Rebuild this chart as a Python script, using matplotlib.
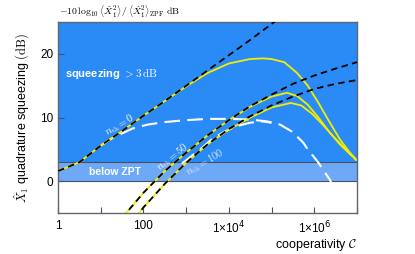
"""Quadrature squeezing versus cooperativity, with thermal occupations."""

import matplotlib
matplotlib.use("Agg")
import matplotlib.pyplot as plt
import numpy as np

plt.rcParams["font.family"] = ["Liberation Sans", "DejaVu Sans"]
plt.rcParams["mathtext.fontset"] = "cm"

# values: log10(cooperativity) and squeezing in dB
logc_ideal_n0 = [0.0, 0.5, 1.0, 1.5, 2.0, 2.5, 3.0, 3.5, 4.0, 4.5, 5.0, 5.3]
db_ideal_n0 = [1.6, 3.0, 5.6, 7.9, 10.3, 12.6, 15.0, 17.4, 19.8, 22.2, 24.7, 26.2]

logc_ideal_n50 = [1.5, 1.62, 2.0, 2.5, 3.0, 3.5, 4.0, 4.5, 5.0, 5.5, 6.0, 6.5, 7.0]
db_ideal_n50 = [-5.8, -4.8, -1.8, 1.6, 4.5, 7.2, 9.6, 11.8, 13.6, 15.3, 16.6, 17.7, 18.7]

logc_ideal_n100 = [1.8, 1.92, 2.0, 2.5, 3.0, 3.5, 4.0, 4.5, 5.0, 5.5, 6.0, 6.5, 7.0]
db_ideal_n100 = [-5.8, -4.8, -4.1, -0.4, 2.9, 5.8, 8.2, 10.2, 11.9, 13.3, 14.5, 15.3, 15.9]

logc_full_n0 = [0.0, 0.5, 1.0, 1.5, 2.0, 2.5, 3.0, 3.5, 4.0, 4.5, 4.8, 5.0,
                5.3, 5.6, 5.85, 6.1, 6.35, 6.6, 6.8, 6.98]
db_full_n0 = [1.6, 3.0, 5.6, 7.9, 10.3, 12.6, 14.9, 17.0, 18.5, 19.2, 19.3, 19.2,
              18.7, 17.0, 15.0, 12.3, 9.4, 6.6, 4.8, 3.4]

logc_full_n50 = [1.5, 1.62, 2.0, 2.5, 3.0, 3.5, 4.0, 4.5, 5.0, 5.36, 5.6, 5.85,
                 6.1, 6.35, 6.6, 6.8, 6.98]
db_full_n50 = [-5.8, -4.8, -1.8, 1.6, 4.5, 7.2, 9.6, 11.7, 13.3, 13.9, 13.4, 12.0,
               10.0, 7.8, 5.8, 4.5, 3.4]

logc_full_n100 = [1.8, 1.92, 2.0, 2.5, 3.0, 3.5, 4.0, 4.5, 5.0, 5.45, 5.7, 5.95,
                  6.2, 6.45, 6.7, 6.98]
db_full_n100 = [-5.8, -4.8, -4.1, -0.4, 2.9, 5.8, 8.1, 10.0, 11.6, 12.3, 11.9, 10.6,
                8.9, 7.0, 5.3, 3.4]

logc_approx_a = [1.0, 1.3, 1.75, 2.1, 2.5, 3.0, 3.5, 4.0, 4.5, 4.9, 5.2, 5.48,
                 5.74, 5.85, 6.09, 6.37, 6.6]
db_approx_a = [5.6, 6.9, 8.3, 8.9, 9.3, 9.6, 9.8, 9.8, 9.7, 9.4, 8.9, 7.8,
               6.1, 5.0, 3.0, 0.2, -3.0]

logc_approx_b = [2.9, 3.33, 3.6, 3.9, 4.2, 4.5, 4.8, 5.0]
db_approx_b = [2.8, 5.0, 6.6, 7.8, 8.7, 9.2, 9.4, 9.2]

x_ticks = [1, 1e2, 1e4, 1e6]
x_tick_labels = ["1", "100", "1×10$^{4}$", "1×10$^{6}$"]
y_ticks = [0, 10, 20]

BLUE = "#2a8af6"
LIGHT_BLUE = "#6ea9f8"
YELLOW = "#f2ee00"
EDGE = "#4a5060"


def coop(logc):
    return 10.0 ** np.asarray(logc)


fig = plt.figure(figsize=(4.15, 2.54), dpi=100)
ax = fig.add_axes([0.140, 0.161, 0.720, 0.752])

ax.axhspan(3, 30, color=BLUE, lw=0, zorder=0)
ax.axhspan(0, 3, color=LIGHT_BLUE, lw=0, zorder=0)
ax.axhline(3, color=EDGE, lw=0.8, zorder=1)
ax.axhline(0, color=EDGE, lw=0.8, zorder=1)

white_kw = dict(color="white", lw=1.5, dashes=(7.5, 3.5), zorder=2)
ax.plot(coop(logc_approx_a), db_approx_a, **white_kw)
ax.plot(coop(logc_approx_b), db_approx_b, **white_kw)

for lc, db in [(logc_full_n0, db_full_n0), (logc_full_n50, db_full_n50),
               (logc_full_n100, db_full_n100)]:
    ax.plot(coop(lc), db, color=YELLOW, lw=1.3, zorder=3)

black_kw = dict(color="black", lw=1.3, dashes=(3.6, 2.4), zorder=4)
for lc, db in [(logc_ideal_n0, db_ideal_n0), (logc_ideal_n50, db_ideal_n50),
               (logc_ideal_n100, db_ideal_n100)]:
    ax.plot(coop(lc), db, **black_kw)

ax.set_xscale("log")
ax.set_xlim(1, 1e7)
ax.set_ylim(-5, 25)
ax.set_xticks([10.0 ** k for k in range(8)], minor=True)
ax.set_xticks(x_ticks)
ax.set_xticklabels(x_tick_labels, math_fontfamily="dejavusans")
ax.xaxis.set_minor_formatter(plt.NullFormatter())
ax.set_yticks(y_ticks)
ax.tick_params(axis="both", which="both", direction="in", labelsize=8.5,
               length=4, width=0.8, color=EDGE)
ax.tick_params(axis="x", which="both", pad=5)
for side in ax.spines.values():
    side.set_color("#606670")
    side.set_linewidth(1.0)

ax.set_ylabel(r"$\hat{X}_1$ quadrature squeezing $(\mathrm{dB})$", fontsize=9, labelpad=6)
ax.set_xlabel(r"cooperativity $\mathcal{C}$", fontsize=9, loc="right", labelpad=0)

ax.text(coop(0.16), 16.9, r"squeezing $> 3\,\mathrm{dB}$", color="white",
        fontsize=8, fontweight="bold", va="center", ha="left", zorder=5)
ax.text(coop(1.33), 1.5, "below ZPT", color="white", fontsize=7.5,
        fontweight="bold", va="center", ha="center", zorder=5)
ax.text(coop(1.45), 8.8, r"$n_{\rm th}=0$", color="white", fontsize=7.5,
        rotation=30, va="center", ha="center", zorder=5)
ax.text(coop(2.67), 3.8, r"$n_{\rm th}=50$", color="white", fontsize=7.5,
        rotation=38, va="center", ha="center", zorder=5)
ax.text(coop(3.44), 3.0, r"$n_{\rm th}=100$", color="#d8e8ff", fontsize=7.5,
        rotation=30, va="center", ha="center", zorder=5)

fig.text(0.143, 0.955,
         r"$-10\,\log_{10}\left\langle\hat{X}_1^2\right\rangle\,/\,"
         r"\left\langle\hat{X}_1^2\right\rangle_{\mathrm{ZPF}}\ \mathrm{dB}$",
         fontsize=7, va="center", ha="left")

fig.savefig("out.png", dpi=100)
